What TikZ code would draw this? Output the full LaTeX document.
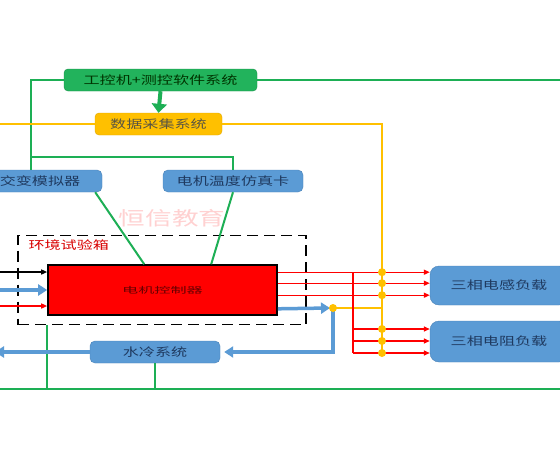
\documentclass[tikz,border=0pt]{standalone}
\usepackage{fontspec}
\newfontfamily\cjk[FakeStretch=1.4]{Noto Sans CJK SC}
\newfontfamily\cjkw[FakeStretch=1.9]{Noto Sans CJK SC}
\usetikzlibrary{arrows.meta,calc}
\definecolor{gline}{HTML}{1DAF55}
\definecolor{gfill}{HTML}{22B35C}
\definecolor{gdraw}{HTML}{17924A}
\definecolor{yline}{HTML}{FFC000}
\definecolor{ydraw}{HTML}{E0A800}
\definecolor{bfill}{HTML}{5B9BD5}
\definecolor{bdraw}{HTML}{4A82B8}
\definecolor{btext}{HTML}{1F3A60}
\definecolor{rline}{HTML}{FF0000}
\begin{document}
\begin{tikzpicture}[x=1pt,y=-1pt,
  cnfont/.style={font=\cjk\fontsize{11.5}{12}\selectfont},
  greenbox/.style={cnfont,draw=gdraw,fill=gfill,rounded corners=4pt,minimum height=22pt,inner sep=0pt,text=black!80!green},
  yellowbox/.style={cnfont,draw=ydraw,fill=yline,rounded corners=4pt,minimum height=22pt,inner sep=0pt,text=black!75!yellow},
  bluebox/.style={cnfont,draw=bdraw,fill=bfill,rounded corners=5pt,minimum height=22pt,inner sep=0pt,text=btext},
  loadbox/.style={cnfont,draw=bdraw,fill=bfill,rounded corners=9pt,inner sep=0pt,text=btext},
  ctrlbox/.style={draw=black,line width=1.6pt,fill=rline,inner sep=0pt,font=\cjkw\fontsize{8.5}{9}\selectfont,text=red!40!black},
  greenline/.style={draw=gline,line width=2pt},
  yellowline/.style={draw=yline,line width=2pt},
  redarrow/.style={draw=rline,line width=1.4pt,-{Triangle[length=6pt,width=5pt]}},
  redline/.style={draw=rline,line width=1.4pt},
  bluearrow/.style={draw=bfill,line width=3.5pt,-{Triangle[length=9pt,width=11pt]}},
  blueline/.style={draw=bfill,line width=3.5pt},
  ydot/.style={circle,fill=yline,inner sep=0pt,minimum size=8pt}]
\useasboundingbox (0,0) rectangle (560,450);
\fill[white] (0,0) rectangle (560,450);

% watermark
\node[font=\cjk\fontsize{19}{20}\selectfont,text=red!18] (wm) at (172,218) {恒信教育};

% boxes
\node[greenbox,minimum width=193pt] (gk) at (160.5,80) {工控机+测控软件系统};
\node[yellowbox,minimum width=127pt] (sj) at (158.5,124) {数据采集系统};
\node[bluebox,minimum width=124pt] (jb) at (40,181) {交变模拟器};
\node[bluebox,minimum width=140pt] (wd) at (233,181) {电机温度仿真卡};
\node[draw=black,line width=1.8pt,dash pattern=on 11pt off 6pt,minimum width=288pt,minimum height=89pt,inner sep=0pt] (xb) at (162,280) {};
\node[cnfont,text=red!85!black,anchor=west] (xbl) at (25,245) {环境试验箱};
\node[ctrlbox,minimum width=229pt,minimum height=50pt] (kz) at (162.5,290) {电机控制器};
\node[loadbox,minimum width=138pt,minimum height=39pt] (gz) at (499,285.5) {三相电感负载};
\node[loadbox,minimum width=138pt,minimum height=41pt] (dz) at (499,341.5) {三相电阻负载};
\node[bluebox,minimum width=130pt] (sl) at (155,352) {水冷系统};

% coordinates
\coordinate (gR) at (565,80);
\coordinate (gm) at (31,157);
\coordinate (yL) at (-5,124);
\coordinate (yR) at (382,124);
\coordinate (gbL) at (-5,389);
\coordinate (gbR) at (565,389);
\coordinate (inL) at (-5,0);
\coordinate (rv) at (353,0);
\coordinate (bj) at (333,308);

% green connections
\draw[greenline] (gk.west) -| (jb.north -| gm);
\draw[greenline] (gk.east) -- (gR);
\draw[draw=gline,line width=4pt,-{Triangle[length=9pt,width=15pt]}] (gk.south) -- (sj.north);
\draw[greenline] (wd.north) |- (gm);
\draw[greenline] ($(jb.south east)+(-7,0)$) -- ($(kz.north west)+(97,0)$);
\draw[greenline] (wd.south) -- ($(kz.north west)+(164,0)$);
\draw[greenline] (gbL) -- (gbR);
\draw[greenline] (xb.south -| 47,0) -- (gbL -| 47,0);
\draw[greenline] (sl.south) -- (sl.south |- gbL);

% yellow connections
\draw[yellowline] (yL) -- (sj.west);
\draw[yellowline] (sj.east) -- (yR) -- ($(yR)+(0,231)$);
\draw[yellowline] (bj) -- (bj -| yR);

% left inputs
\draw[draw=black,line width=1.4pt,-{Triangle[length=6pt,width=5pt]}] (inL |- 0,272) -- (kz.west |- 0,272);
\draw[bluearrow] (inL |- kz.west) -- (kz.west);
\draw[redarrow] (inL |- 0,306) -- (kz.west |- 0,306);

% red outputs
\draw[redarrow] ($(kz.north east)+(0,8)$) coordinate (r1) -- (r1 -| gz.west);
\draw[redarrow] ($(kz.north east)+(0,19)$) coordinate (r2) -- (r2 -| gz.west);
\draw[redarrow] ($(kz.north east)+(0,31)$) coordinate (r3) -- (r3 -| gz.west);
\draw[redline] (r1 -| rv) -- (rv |- 0,353);
\draw[redarrow] (rv |- 0,329) coordinate (r4) -- (r4 -| dz.west);
\draw[redarrow] (rv |- 0,341) coordinate (r5) -- (r5 -| dz.west);
\draw[redarrow] (rv |- 0,353) coordinate (r6) -- (r6 -| dz.west);

% blue water flow
\draw[bluearrow] ($(kz.south east)+(0,-7)$) -- ($(bj)+(-3,0)$);
\draw[blueline] (bj) -- (bj |- sl.east) -- ++(-40,0);
\draw[bluearrow] ($(bj |- sl.east)+(-38,0)$) -- ($(sl.east)+(4,0)$);
\draw[bluearrow] (sl.west) -- (inL |- sl.west);

% yellow dots
\node[ydot] (d0) at (bj) {};
\node[ydot] (d1) at (r1 -| yR) {};
\node[ydot] (d2) at (r2 -| yR) {};
\node[ydot] (d3) at (r3 -| yR) {};
\node[ydot] (d4) at (r4 -| yR) {};
\node[ydot] (d5) at (r5 -| yR) {};
\node[ydot] (d6) at (r6 -| yR) {};
\end{tikzpicture}
\end{document}
